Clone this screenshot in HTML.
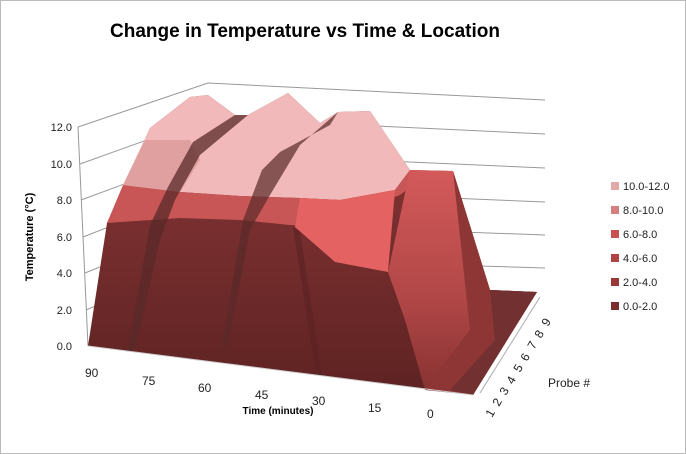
<!DOCTYPE html>
<html><head><meta charset="utf-8"><style>
html,body{margin:0;padding:0;background:#fff}
svg{display:block;font-family:"Liberation Sans",sans-serif}
</style></head><body>
<svg width="686" height="454" viewBox="0 0 686 454">
<rect x="0.5" y="0.5" width="685" height="453" fill="#fff" stroke="#bbb"/>
<text x="305" y="37" text-anchor="middle" font-size="19" font-weight="bold" fill="#000">Change in Temperature vs Time &amp; Location</text>
<g stroke="#999" stroke-width="1" fill="none">
<polyline points="78,127 208,83 545,100"/>
<polyline points="80,164 208,118 545,134"/>
<polyline points="81,200 208,153 545,168"/>
<polyline points="83,237 208,188 545,202"/>
<polyline points="85,273 208,223 545,235"/>
<polyline points="86,310 208,258 545,268"/>
<line x1="78" y1="127" x2="88" y2="346"/>
<line x1="480" y1="393" x2="540" y2="297" stroke="#aaa"/>
</g>
<g font-size="11" fill="#222" text-anchor="end">
<text x="72" y="131">12.0</text><text x="72" y="168">10.0</text><text x="72" y="204">8.0</text>
<text x="72" y="241">6.0</text><text x="72" y="277">4.0</text><text x="72" y="314">2.0</text><text x="72" y="350">0.0</text>
</g>
<text transform="translate(33,237) rotate(-90)" text-anchor="middle" font-size="11" font-weight="bold">Temperature (°C)</text>
<defs>
<linearGradient id="fr" x1="0" y1="0" x2="0" y2="1">
<stop offset="0" stop-color="#8c3838"/><stop offset="1" stop-color="#5e2222"/>
</linearGradient>
<linearGradient id="bk" x1="0" y1="0" x2="0" y2="1">
<stop offset="0" stop-color="#d45a5a"/><stop offset="0.6" stop-color="#b04646"/><stop offset="1" stop-color="#883232"/>
</linearGradient>
</defs>
<polygon points="88,346 107,223 150,128 190,97 208,95 235,115 248,115 288,93 320,123 338,112 370,111 410,170 453,171 490,290 537,292 473,395" fill="url(#fr)"/>
<polygon points="123,185 150,128 190,97 208,95 235,115 248,115 288,93 320,123 338,112 370,111 410,170 395,190 340,200 300,198 240,196 180,192" fill="#f1b9b9"/>
<polygon points="107,223 123,185 180,192 240,196 300,198 340,200 395,190 410,170 420,180 400,195 360,210 330,228 290,225 240,220 180,218" fill="#c85656"/>
<polygon points="123,185 145,140 190,140 200,160 180,192" fill="#e0a0a0"/>
<polygon points="300,198 340,200 395,190 388,272 335,262 295,227" fill="#e46262"/>
<polygon points="388,272 410,170 453,171 490,290 470,330 425,390 405,320" fill="url(#bk)"/>
<polygon points="453,171 490,290 537,292 473,395 425,390 470,330" fill="#8e3636"/>
<polygon points="490,290 537,292 473,395 450,390 495,340" fill="#733030"/>
<polygon points="235,115 248,115 200,155 175,200 160,240 135,350 128,350 150,225 168,187 193,142" fill="#5a2a2a" opacity="0.75"/>
<polygon points="330,125 338,112 300,145 270,195 250,230 228,345 222,345 243,220 262,170 280,152" fill="#5a2a2a" opacity="0.7"/>
<polygon points="293,227 300,232 322,375 316,375" fill="#5a2222" opacity="0.6"/>
<line x1="88" y1="346" x2="473" y2="395" stroke="#ccc"/>
<g font-size="12" fill="#222">
<text x="85" y="377">90</text><text x="142" y="385">75</text><text x="198" y="392">60</text>
<text x="255" y="399">45</text><text x="312" y="405">30</text><text x="368" y="412">15</text><text x="427" y="418">0</text>
</g>
<text x="278" y="414" text-anchor="middle" font-size="10" font-weight="bold">Time (minutes)</text>
<g font-size="12" fill="#222">
<text transform="translate(492,418) rotate(-60)">1</text>
<text transform="translate(499,407) rotate(-60)">2</text>
<text transform="translate(506,396) rotate(-60)">3</text>
<text transform="translate(513,385) rotate(-60)">4</text>
<text transform="translate(520,373) rotate(-60)">5</text>
<text transform="translate(527,362) rotate(-60)">6</text>
<text transform="translate(534,350) rotate(-60)">7</text>
<text transform="translate(541,339) rotate(-60)">8</text>
<text transform="translate(548,327) rotate(-60)">9</text>
</g>
<text x="548" y="387" font-size="12" fill="#222">Probe #</text>
<g font-size="11" fill="#222">
<rect x="611" y="182" width="8" height="8" fill="#e0aaaa"/><text x="623" y="190">10.0-12.0</text>
<rect x="611" y="206" width="8" height="8" fill="#d48080"/><text x="623" y="214">8.0-10.0</text>
<rect x="611" y="230" width="8" height="8" fill="#c85050"/><text x="623" y="238">6.0-8.0</text>
<rect x="611" y="254" width="8" height="8" fill="#b04444"/><text x="623" y="262">4.0-6.0</text>
<rect x="611" y="278" width="8" height="8" fill="#983838"/><text x="623" y="286">2.0-4.0</text>
<rect x="611" y="302" width="8" height="8" fill="#7a2e2e"/><text x="623" y="310">0.0-2.0</text>
</g>
</svg>
</body></html>
